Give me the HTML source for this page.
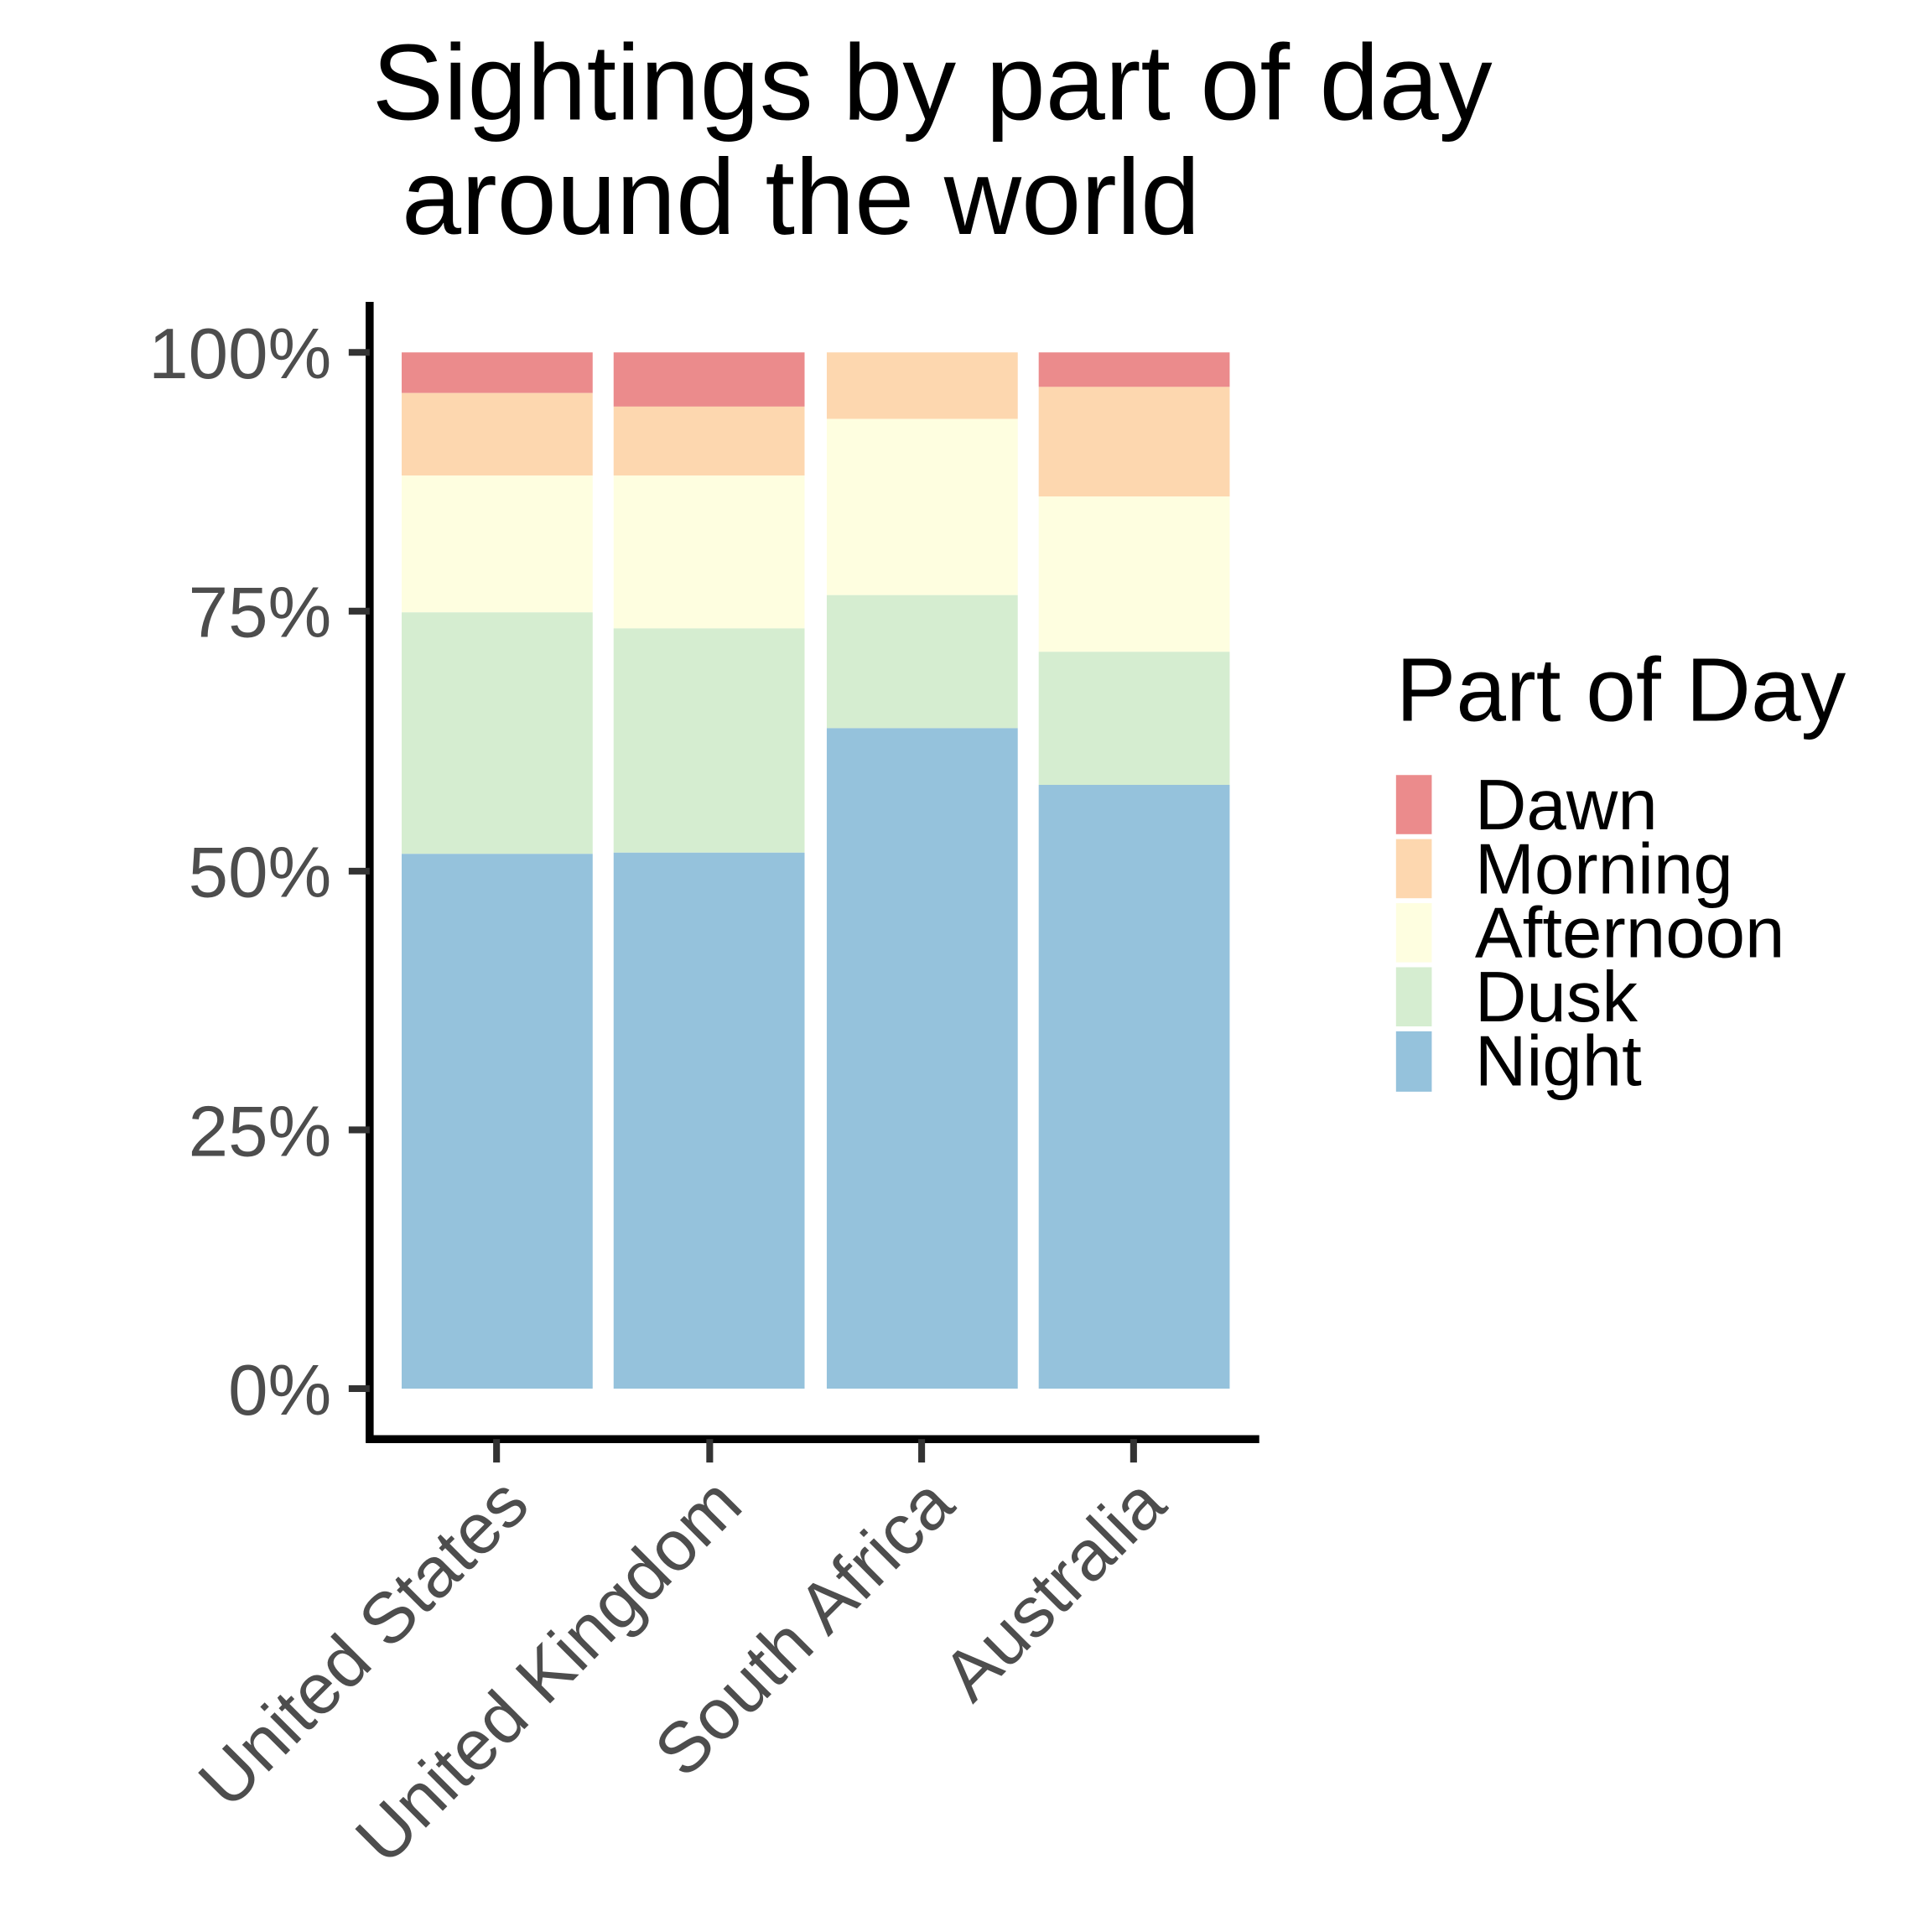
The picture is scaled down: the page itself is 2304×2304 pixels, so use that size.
<!DOCTYPE html>
<html><head><meta charset="utf-8"><style>html,body{margin:0;padding:0;background:#fff}svg{display:block}</style></head>
<body>
<svg width="2304" height="2304" viewBox="0 0 1568 1568" xmlns="http://www.w3.org/2000/svg" font-family="Liberation Sans, Arial, sans-serif">
<rect width="1568" height="1568" fill="#fff"/>
<text x="302" y="97" font-size="87" fill="#000">Sightings by part of day</text>
<text x="326" y="190" font-size="87" fill="#000">around the world</text>
<g>
<rect x="326" y="286" width="155" height="33" fill="#EB8B8C"/>
<rect x="326" y="319" width="155" height="67" fill="#FDD7AF"/>
<rect x="326" y="386" width="155" height="111" fill="#FEFEE0"/>
<rect x="326" y="497" width="155" height="196" fill="#D5EDD0"/>
<rect x="326" y="693" width="155" height="434" fill="#95C2DC"/>
<rect x="498" y="286" width="155" height="44" fill="#EB8B8C"/>
<rect x="498" y="330" width="155" height="56" fill="#FDD7AF"/>
<rect x="498" y="386" width="155" height="124" fill="#FEFEE0"/>
<rect x="498" y="510" width="155" height="182" fill="#D5EDD0"/>
<rect x="498" y="692" width="155" height="435" fill="#95C2DC"/>
<rect x="671" y="286" width="155" height="54" fill="#FDD7AF"/>
<rect x="671" y="340" width="155" height="143" fill="#FEFEE0"/>
<rect x="671" y="483" width="155" height="108" fill="#D5EDD0"/>
<rect x="671" y="591" width="155" height="536" fill="#95C2DC"/>
<rect x="843" y="286" width="155" height="28" fill="#EB8B8C"/>
<rect x="843" y="314" width="155" height="89" fill="#FDD7AF"/>
<rect x="843" y="403" width="155" height="126" fill="#FEFEE0"/>
<rect x="843" y="529" width="155" height="108" fill="#D5EDD0"/>
<rect x="843" y="637" width="155" height="490" fill="#95C2DC"/>
</g>
<line x1="300" y1="245" x2="300" y2="1171" stroke="#000" stroke-width="6.5"/>
<line x1="297" y1="1168" x2="1022" y2="1168" stroke="#000" stroke-width="6.5"/>
<g stroke="#333" stroke-width="5.5">
<line x1="283" y1="286" x2="300" y2="286"/>
<line x1="283" y1="496" x2="300" y2="496"/>
<line x1="283" y1="707" x2="300" y2="707"/>
<line x1="283" y1="917" x2="300" y2="917"/>
<line x1="283" y1="1127" x2="300" y2="1127"/>
<line x1="403" y1="1168" x2="403" y2="1187"/>
<line x1="576" y1="1168" x2="576" y2="1187"/>
<line x1="748" y1="1168" x2="748" y2="1187"/>
<line x1="920" y1="1168" x2="920" y2="1187"/>
</g>
<g font-size="58" fill="#4d4d4d" text-anchor="end">
<text x="269" y="307">100%</text>
<text x="269" y="517">75%</text>
<text x="269" y="728">50%</text>
<text x="269" y="938">25%</text>
<text x="269" y="1148">0%</text>
<text transform="translate(432,1224) rotate(-45)">United States</text>
<text transform="translate(605,1224) rotate(-45)">United Kingdom</text>
<text transform="translate(777,1224) rotate(-45)">South Africa</text>
<text transform="translate(949,1224) rotate(-45)">Australia</text>
</g>
<text x="1133" y="585" font-size="73" fill="#000">Part of Day</text>
<rect x="1133" y="629" width="29" height="48" fill="#EB8B8C"/>
<rect x="1133" y="681" width="29" height="48" fill="#FDD7AF"/>
<rect x="1133" y="733" width="29" height="48" fill="#FEFEE0"/>
<rect x="1133" y="785" width="29" height="48" fill="#D5EDD0"/>
<rect x="1133" y="837" width="29" height="49" fill="#95C2DC"/>
<g font-size="58" fill="#000">
<text x="1197" y="673">Dawn</text>
<text x="1197" y="725">Morning</text>
<text x="1197" y="777">Afternoon</text>
<text x="1197" y="829">Dusk</text>
<text x="1197" y="881">Night</text>
</g>
</svg>
</body></html>
